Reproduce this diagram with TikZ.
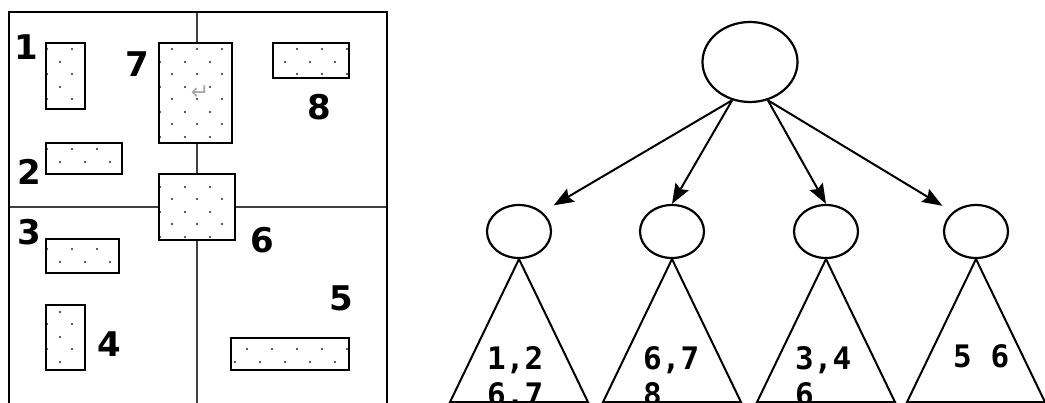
\documentclass[tikz,border=0pt]{standalone}
\usepackage{fontspec}
\usepackage{tikz}
\usetikzlibrary{arrows.meta, shapes.geometric}
\newfontfamily\boxfont{DejaVu Sans}
\newfontfamily\treefont{DejaVu Sans Mono}
\newfontfamily\symfont{DejaVu Sans}

% dotted rectangle: x1, y1, x2, y2
\newcommand{\dotbox}[4]{%
  \fill[white] (#1,#2) rectangle (#3,#4);
  \begin{scope}
    \clip (#1,#2) rectangle (#3,#4);
    \foreach \i in {0,...,16}
      \foreach \j in {0,...,16} {
        \fill[black!85] (25*\i-3,25*\j-1) circle (1.2pt);
        \fill[black!85] (25*\i+10,25*\j+12) circle (1.2pt);
      }
  \end{scope}
  \draw[line width=2.2pt] (#1,#2) rectangle (#3,#4);}

\begin{document}
\begin{tikzpicture}[x=1pt, y=-1pt, >={Stealth[length=20pt, width=15pt, inset=3pt]},
    frame/.style={line width=2.2pt},
    divider/.style={line width=2.6pt, black!75},
    num/.style={font=\boxfont\bfseries\fontsize{34}{34}\selectfont, inner sep=0pt},
    knot/.style={ellipse, draw, line width=2.2pt, inner sep=0pt},
    leaf/.style={knot, minimum width=64pt, minimum height=53pt},
    subtree/.style={line width=2pt, line join=miter},
    keys/.style={font=\treefont\bfseries\fontsize{31}{36}\selectfont, inner sep=0pt,
                 align=left, anchor=north west},
    link/.style={->, line width=2pt}]

  \useasboundingbox (0,0) rectangle (1045,403);
  \clip (0,0) rectangle (1045,403);

  % space partition
  \draw[divider] (197,12) -- (197,410);
  \draw[divider] (9,207) -- (387,207);
  \draw[frame] (9,410) |- (387,12) -- (387,410);

  \dotbox{46}{43}{85}{109}
  \dotbox{159}{43}{232}{143}
  \dotbox{273}{43}{349}{78}
  \dotbox{46}{143}{122}{174}
  \dotbox{159}{174}{235}{240}
  \dotbox{46}{239}{119}{273}
  \dotbox{46}{305}{85}{370}
  \dotbox{231}{338}{349}{370}

  \node[font=\symfont\fontsize{22}{22}\selectfont, text=black!35] (ret) at (200,93) {↵};

  \node[num] (n1) at (26,47)   {1};
  \node[num] (n7) at (137,64)  {7};
  \node[num] (n8) at (319,107) {8};
  \node[num] (n2) at (29,172)  {2};
  \node[num] (n3) at (29,232)  {3};
  \node[num] (n6) at (262,240) {6};
  \node[num] (n5) at (341,298) {5};
  \node[num] (n4) at (109,344) {4};

  % tree
  \node[knot, minimum width=95pt, minimum height=80pt] (root) at (750,62) {};
  \node[leaf] (c1) at (519,231.5) {};
  \node[leaf] (c2) at (672,231.5) {};
  \node[leaf] (c3) at (826,231.5) {};
  \node[leaf] (c4) at (976,231.5) {};

  \draw[link, shorten >=13pt] (root.245) -- (c1.north east);
  \draw[link] (root.245) -- (c2.north);
  \draw[link] (root.295) -- (c3.north);
  \draw[link, shorten >=12pt] (root.295) -- (c4.north west);

  \foreach \c in {c1,c2,c3,c4}
    \draw[subtree] (\c.south) -- ++(-69,143) -- ++(138,0) -- cycle;

  \node[keys] (k1) at (487,346) {1,2\\6,7};
  \node[keys] (k2) at (643,346) {6,7\\8};
  \node[keys] (k3) at (795,346) {3,4\\6};
  \node[keys] (k4) at (953,344) {5 6};
\end{tikzpicture}
\end{document}
